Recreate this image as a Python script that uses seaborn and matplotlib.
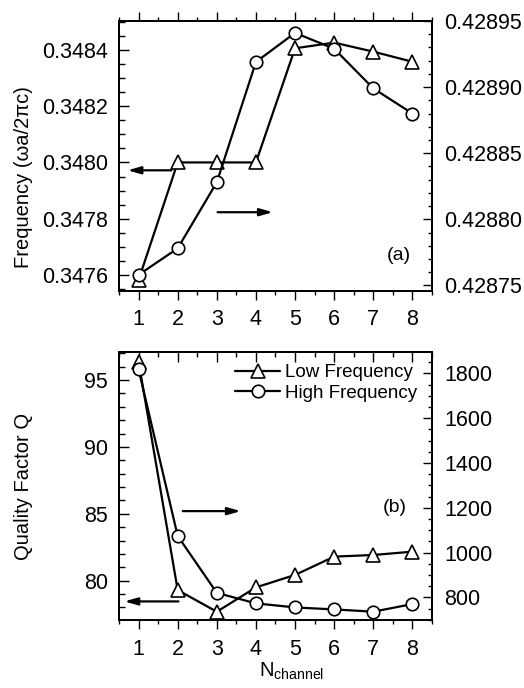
import numpy as np
import pandas as pd
import matplotlib
matplotlib.use('Agg')
import matplotlib.pyplot as plt
import seaborn as sns
from matplotlib.ticker import MultipleLocator, FormatStrFormatter
from matplotlib.lines import Line2D

# ---- data ----
n_channel = [1, 2, 3, 4, 5, 6, 7, 8]
freq_low = [0.347582, 0.3480, 0.3480, 0.3480, 0.348406, 0.348426, 0.348394, 0.348358]
freq_high = [0.428758, 0.428778, 0.428828, 0.428919, 0.428941, 0.428929, 0.428899, 0.428880]
q_low = [96.37, 79.3, 77.68, 79.5, 80.43, 81.8, 81.92, 82.17]
q_high = [1818, 1074, 820, 773, 755, 746, 736, 770]
x_ticks = [1, 2, 3, 4, 5, 6, 7, 8]
legend_labels = ["Low Frequency", "High Frequency"]

sns.set_theme(style="ticks")
plt.rcParams['font.family'] = ['Liberation Sans', 'DejaVu Sans']
plt.rcParams['mathtext.fontset'] = 'custom'
plt.rcParams['mathtext.rm'] = 'Liberation Sans'
plt.rcParams['mathtext.it'] = 'Liberation Sans:italic'
plt.rcParams['axes.linewidth'] = 1.3
for k in ('text.color', 'axes.labelcolor', 'xtick.color', 'ytick.color', 'axes.edgecolor'):
    plt.rcParams[k] = 'black'

TICK_FS = 15.5
LABEL_FS = 14.5

fig = plt.figure(figsize=(5.24, 6.88), dpi=100)
ax1 = fig.add_axes([0.2271, 0.5775, 0.5973, 0.392])
ax2 = fig.add_axes([0.2271, 0.0988, 0.5973, 0.3895])
ax1r = ax1.twinx()
ax2r = ax2.twinx()

tri_kw = dict(color='black', marker='^', markersize=10, markerfacecolor='white',
              markeredgecolor='black', markeredgewidth=1.2, linewidth=1.6)
cir_kw = dict(color='black', marker='o', markersize=9, markerfacecolor='white',
              markeredgecolor='black', markeredgewidth=1.2, linewidth=1.6)

df = pd.DataFrame({'n': n_channel, 'fl': freq_low, 'fh': freq_high, 'ql': q_low, 'qh': q_high})

sns.lineplot(data=df, x='n', y='fl', ax=ax1, legend=False, **tri_kw)
sns.lineplot(data=df, x='n', y='fh', ax=ax1r, legend=False, **cir_kw)
sns.lineplot(data=df, x='n', y='ql', ax=ax2, legend=False, clip_on=False, **tri_kw)
sns.lineplot(data=df, x='n', y='qh', ax=ax2r, legend=False, **cir_kw)

for a in (ax1, ax2):
    a.set_xlim(0.5, 8.5)
    a.set_xticks(x_ticks)
    a.xaxis.set_minor_locator(MultipleLocator(0.5))
    a.set_xlabel('')

ax1.set_ylim(0.347544, 0.348503)
ax1r.set_ylim(0.428746, 0.42895)
ax2.set_ylim(77.06, 97.09)
ax2r.set_ylim(698.7, 1895)

ax1.yaxis.set_major_locator(MultipleLocator(0.0002))
ax1.yaxis.set_minor_locator(MultipleLocator(0.00005))
ax1.yaxis.set_major_formatter(FormatStrFormatter('%.4f'))
ax1r.yaxis.set_major_locator(MultipleLocator(0.00005))
ax1r.yaxis.set_minor_locator(MultipleLocator(0.00001))
ax1r.yaxis.set_major_formatter(FormatStrFormatter('%.5f'))
ax2.yaxis.set_major_locator(MultipleLocator(5))
ax2.yaxis.set_minor_locator(MultipleLocator(1))
ax2r.yaxis.set_major_locator(MultipleLocator(200))
ax2r.yaxis.set_minor_locator(MultipleLocator(50))

# x ticks
ax1.tick_params(axis='x', which='both', direction='out', top=True, bottom=True,
                labelsize=TICK_FS, pad=7, width=1.0)
ax1.tick_params(axis='x', which='major', length=6.5)
ax1.tick_params(axis='x', which='minor', length=3.2)
ax2.tick_params(axis='x', which='both', direction='out', top=False, bottom=True,
                labelsize=TICK_FS, pad=7, width=1.0)
ax2.tick_params(axis='x', which='major', length=6.5)
ax2.tick_params(axis='x', which='minor', length=3.2)
sec = ax2.secondary_xaxis('top')
sec.set_xticks(x_ticks)
sec.xaxis.set_minor_locator(MultipleLocator(0.5))
sec.tick_params(axis='x', which='both', direction='in', labeltop=False, width=1.0)
sec.tick_params(axis='x', which='major', length=7)
sec.tick_params(axis='x', which='minor', length=3.5)
sec.spines['top'].set_linewidth(1.3)

# y ticks
for a in (ax1, ax2):
    a.tick_params(axis='y', which='both', direction='in', left=True, right=False,
                  labelsize=TICK_FS, pad=8, width=1.0)
    a.tick_params(axis='y', which='major', length=7.2)
    a.tick_params(axis='y', which='minor', length=4.3)
for a in (ax1r, ax2r):
    a.tick_params(axis='y', which='both', direction='in', right=True, left=False,
                  labelsize=TICK_FS, pad=9, width=1.0)
    a.tick_params(axis='y', which='major', length=6.5)
    a.tick_params(axis='y', which='minor', length=3.2)
    a.set_ylabel('')

ax1.set_ylabel('Frequency (ωa/2πc)', fontsize=LABEL_FS)
ax1.yaxis.set_label_coords(-0.275, 0.42)
ax2.set_ylabel('Quality Factor Q', fontsize=LABEL_FS)
ax2.yaxis.set_label_coords(-0.275, 0.5)
ax2.set_xlabel(r'N$_{\mathrm{channel}}$', fontsize=LABEL_FS)
ax2.xaxis.set_label_coords(0.553, -0.15)

# arrows
arrow_kw = dict(arrowstyle='-|>,head_length=0.7,head_width=0.2', color='black',
                lw=1.6, mutation_scale=11, shrinkA=0, shrinkB=0)
ax1.annotate('', xy=(0.72, 0.347972), xytext=(1.84, 0.347972), arrowprops=arrow_kw)
ax1.annotate('', xy=(4.43, 0.347823), xytext=(3.02, 0.347823), arrowprops=arrow_kw)
ax2.annotate('', xy=(0.64, 78.45), xytext=(2.02, 78.45), arrowprops=arrow_kw)
ax2.annotate('', xy=(3.61, 85.2), xytext=(2.13, 85.2), arrowprops=arrow_kw)

ax1.text(0.895, 0.13, '(a)', transform=ax1.transAxes, fontsize=14, ha='center', va='center')
ax2.text(0.882, 0.42, '(b)', transform=ax2.transAxes, fontsize=14, ha='center', va='center')

handles = [Line2D([], [], **tri_kw), Line2D([], [], **cir_kw)]
ax2r.legend(handles, legend_labels, loc='upper left', bbox_to_anchor=(0.371, 0.955),
            frameon=False, fontsize=13.5, borderpad=0, borderaxespad=0,
            handlelength=2.4, handletextpad=0.27, labelspacing=0.18, numpoints=1)

for a in (ax1, ax1r, ax2, ax2r):
    for s in a.spines.values():
        s.set_linewidth(1.3)
        s.set_color('black')

fig.savefig('out.png', dpi=100)
